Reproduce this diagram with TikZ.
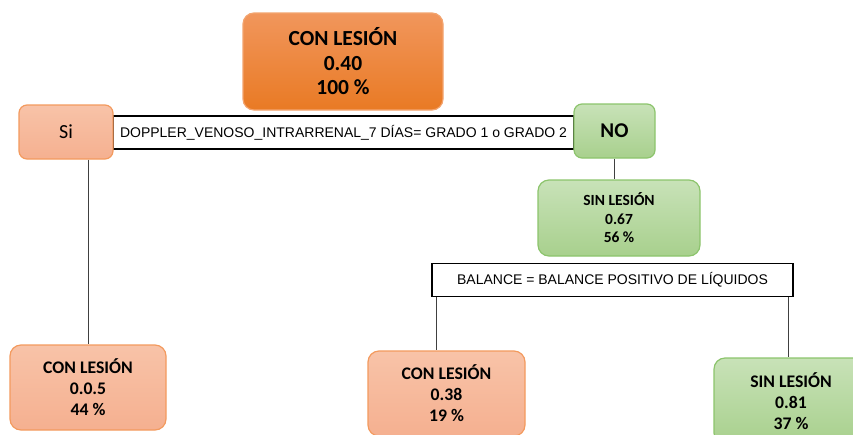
\documentclass[tikz,border=0pt]{standalone}
\usepackage{fontspec}
\setmainfont{Carlito}
\newfontfamily\arialfont{Liberation Sans}
\definecolor{orangetop}{HTML}{F1965C}
\definecolor{orangemid}{HTML}{F38A3B}
\definecolor{orangebot}{HTML}{E97A24}
\definecolor{orangeline}{HTML}{F3A46F}
\definecolor{salmontop}{HTML}{F8C3A8}
\definecolor{salmonbot}{HTML}{F5B090}
\definecolor{salmonline}{HTML}{F39A5E}
\definecolor{greentop}{HTML}{C8E2B8}
\definecolor{greenbot}{HTML}{A8D08D}
\definecolor{greenline}{HTML}{8CC46C}

\begin{document}
\begin{tikzpicture}[
    x=1pt, y=-1pt,
    box/.style={rounded corners=11pt, align=center, inner sep=0pt, line width=1.2pt},
    con/.style={box, draw=salmonline, top color=salmontop, bottom color=salmonbot},
    sin/.style={box, draw=greenline, top color=greentop, bottom color=greenbot},
    midtxt/.style={font=\bfseries\fontsize{15.5}{18.5}\selectfont},
    lowtxt/.style={font=\bfseries\fontsize{17.7}{21}\selectfont},
    cond/.style={draw=black, line width=1.6pt, inner sep=0pt, fill=white,
                 font=\arialfont\fontsize{14}{16}\selectfont},
    link/.style={draw=black!75, line width=0.9pt},
]
\useasboundingbox (0,0) rectangle (853,434);
\clip (0,0) rectangle (853,434);

\node[box, draw=orangeline, top color=orangetop, middle color=orangemid, bottom color=orangebot,
      minimum width=200pt, minimum height=97pt,
      font=\bfseries\fontsize{21.5}{24.5}\selectfont] (root) at (343,61.5) {CON LESIÓN\\0.40\\100 \%};
\node[cond, minimum width=461pt, minimum height=33pt] (cond1) at (343.5,132.5)
      {DOPPLER\_VENOSO\_INTRARRENAL\_7 DÍAS= GRADO 1 o GRADO 2};
\node[con, rounded corners=8pt, minimum width=94pt, minimum height=54pt,
      font=\fontsize{20}{24}\selectfont] (si) at (66,132) {Si};
\node[sin, rounded corners=8pt, minimum width=81pt, minimum height=54pt,
      font=\bfseries\fontsize{21}{24}\selectfont] (no) at (614.5,131) {NO};
\node[sin, midtxt, minimum width=162pt, minimum height=76pt] (sl1) at (619,218) {SIN LESIÓN\\0.67\\56 \%};
\node[cond, minimum width=361pt, minimum height=33pt] (cond2) at (612.5,280)
      {BALANCE = BALANCE POSITIVO DE LÍQUIDOS};
\node[con, lowtxt, minimum width=156pt, minimum height=85pt] (cl1) at (88,387.5) {CON LESIÓN\\0.0.5\\44 \%};
\node[con, lowtxt, minimum width=157pt, minimum height=85pt] (cl2) at (446.5,393.5) {CON LESIÓN\\0.38\\19 \%};
\node[sin, lowtxt, minimum width=154pt, minimum height=86pt] (sl2) at (791,401) {SIN LESIÓN\\0.81\\37 \%};

\draw[link] (si.south -| cl1.north) -- (cl1.north);
\draw[link] (no.south) -- (no.south |- sl1.north);
\coordinate (bl) at ([xshift=5pt]cond2.south west);
\coordinate (br) at ([xshift=-5pt]cond2.south east);
\draw[link] (bl) -- (bl |- cl2.north);
\draw[link] (br) -- (br |- sl2.north);
\end{tikzpicture}
\end{document}
